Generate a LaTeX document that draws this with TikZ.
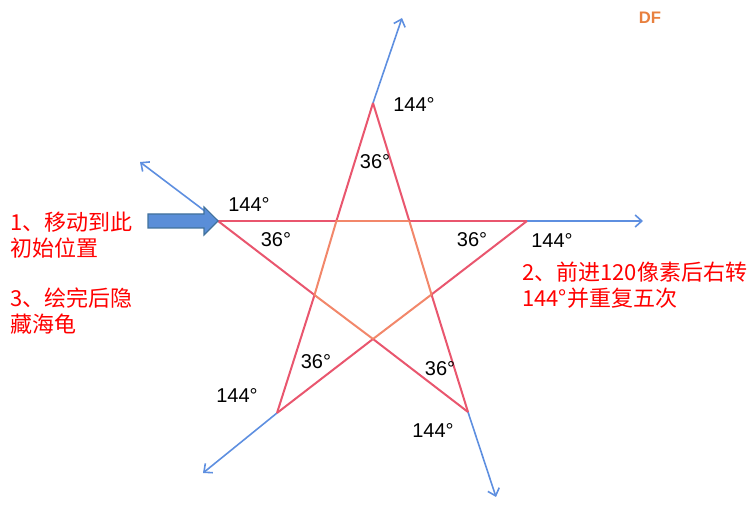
\documentclass[tikz,border=0pt]{standalone}
\usepackage{fontspec}
\setmainfont{Liberation Sans}
\newfontfamily\cjk{Noto Sans CJK SC}
\usetikzlibrary{arrows.meta}
\definecolor{starred}{HTML}{E9566E}
\definecolor{innerorange}{HTML}{F2876A}
\definecolor{turnblue}{HTML}{5E8FE0}
\definecolor{arrowfill}{HTML}{5A8ED8}
\definecolor{arrowedge}{HTML}{41719C}
\definecolor{dforange}{HTML}{E8803E}
\begin{document}
\begin{tikzpicture}[x=0.75pt,y=-0.75pt]
  \useasboundingbox (0,0) rectangle (747,516);
  % star corners
  \coordinate (l) at (218,221);
  \coordinate (r) at (527,221);
  \coordinate (t) at (373,103);
  \coordinate (bl) at (277,413);
  \coordinate (br) at (468,412);
  % inner pentagon
  \coordinate (p1) at (336.4,221);
  \coordinate (p2) at (409.3,221);
  \coordinate (p3) at (431.5,294.5);
  \coordinate (p4) at (373,339);
  \coordinate (p5) at (314.5,295);
  % arrow ends
  \coordinate (tl) at (140,162);
  \coordinate (tt) at (402,18);
  \coordinate (tr) at (643,221);
  \coordinate (tbl) at (203,473);
  \coordinate (tbr) at (496,497);
  \begin{scope}[every edge/.style={draw=turnblue,line width=1.2pt,-{Straight Barb[length=5pt,width=9pt]}}]
  \path (l) edge (tl);
  \path (t) edge (tt);
  \path (r) edge (tr);
  \path (bl) edge (tbl);
  \path (br) edge (tbr);
  \end{scope}
  \begin{scope}[every edge/.style={draw=starred,line width=1.5pt}]
  \path (l) edge (p1);
  \path (p2) edge (r);
  \path (r) edge (p3);
  \path (p4) edge (bl);
  \path (bl) edge (p5);
  \path (p1) edge (t);
  \path (t) edge (p2);
  \path (p3) edge (br);
  \path (br) edge (p4);
  \path (p5) edge (l);
  \end{scope}
  \begin{scope}[every edge/.style={draw=innerorange,line width=1.5pt}]
  \path (p1) edge (p2);
  \path (p2) edge (p3);
  \path (p3) edge (p4);
  \path (p4) edge (p5);
  \path (p5) edge (p1);
  \end{scope}
  % start arrow
  \draw[fill=arrowfill,draw=arrowedge,line width=0.8pt]
    (148,214) -- (204,214) -- (204,207) -- (218,221) -- (204,235) -- (204,228) -- (148,228) -- cycle;
  \begin{scope}[every node/.style={font=\fontsize{15}{18}\selectfont,inner sep=0pt}]
  \node (a1) at (414,105) {144°};
  \node (a2) at (375,162) {36°};
  \node (a3) at (249,205) {144°};
  \node (a4) at (276,240) {36°};
  \node (a5) at (472,240) {36°};
  \node (a6) at (552,241) {144°};
  \node (a7) at (316,362) {36°};
  \node (a8) at (440,369) {36°};
  \node (a9) at (237,396) {144°};
  \node (a10) at (433,431) {144°};
  \end{scope}
  \begin{scope}[every node/.style={font=\cjk\fontsize{16.5}{19.5}\selectfont,text=red,inner sep=0pt,align=left,anchor=west}]
  \node (step1) at (10,235) {1、移动到此\\初始位置};
  \node (step3) at (10,311) {3、绘完后隐\\藏海龟};
  \node (step2) at (522,285) {2、前进120像素后右转\\144°并重复五次};
  \end{scope}
  \node[font=\bfseries\fontsize{12.5}{14}\selectfont,text=dforange] (df) at (650,18) {DF};
\end{tikzpicture}
\end{document}
